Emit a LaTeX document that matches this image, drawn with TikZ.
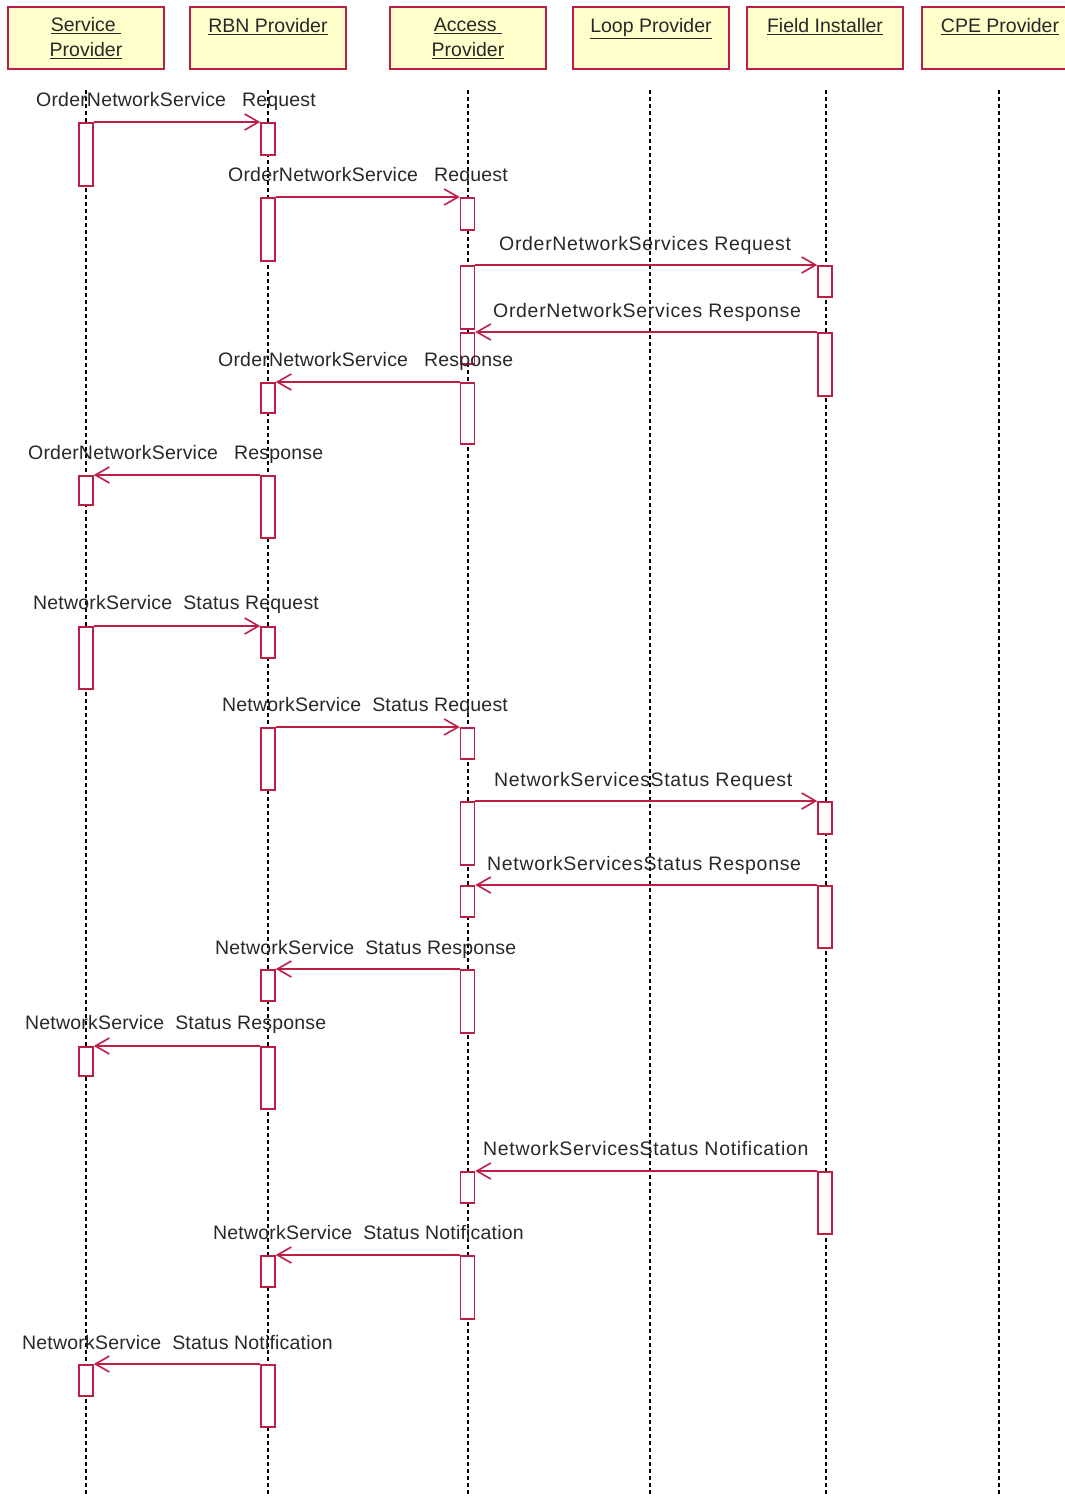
\documentclass[tikz,border=0pt]{standalone}
\usepackage{fontspec}
\setmainfont{Liberation Sans}
\usetikzlibrary{arrows.meta}
\definecolor{crim}{RGB}{190,30,70}
\definecolor{hdrfill}{RGB}{255,255,204}
\definecolor{txt}{RGB}{40,40,40}
\newcommand\actbox[4]{\node[act, minimum height={(#4-#3)*1pt}] (#1) at (#2,#3) {};}
\begin{document}
\begin{tikzpicture}[x=1pt,y=-1pt,
  hdr/.style={draw=crim, fill=hdrfill, line width=1.5pt, minimum width=156pt, minimum height=62pt, inner sep=0pt, align=center, font=\fontsize{19.5}{25}\selectfont, text=txt},
  lifeline/.style={draw=black, line width=1.2pt, dash pattern=on 4pt off 3pt},
  act/.style={draw=crim, fill=white, line width=1.5pt, minimum width=14pt, inner sep=0pt, anchor=north},
  msg/.style={draw=crim, line width=1.6pt, -{Straight Barb[length=14pt,width=16pt]}},
  lbl/.style={anchor=base west, inner sep=0pt, font=\fontsize{19.5}{24}\selectfont\addfontfeature{LetterSpace=1}, text=txt},
  widelbl/.style={anchor=base west, inner sep=0pt, font=\fontsize{19.5}{24}\selectfont\addfontfeature{LetterSpace=3.5}, text=txt}]
\useasboundingbox (0,0) rectangle (1065,1497);

% headers
\node[hdr] (hsp) at (86,38) {\underline{Service\ }\\\underline{Provider}};
\node[hdr] (hrbn) at (268,38) {\underline{RBN Provider}\\\mbox{}};
\node[hdr] (hap) at (468,38) {\underline{Access\ }\\\underline{Provider}};
\node[hdr] (hlp) at (651,38) {\underline{Loop Provider}\\\mbox{}};
\node[hdr] (hfi) at (825,38) {\underline{Field Installer}\\\mbox{}};
\node[hdr] (hcpe) at (1000,38) {\underline{CPE Provider}\\\mbox{}};

% lifelines
\coordinate (spT) at (86,90);   \coordinate (spB) at (86,1497);
\coordinate (rbT) at (268,90);  \coordinate (rbB) at (268,1497);
\coordinate (apT) at (468,90);  \coordinate (apB) at (468,1497);
\coordinate (lpT) at (650,90);  \coordinate (lpB) at (650,1497);
\coordinate (fiT) at (826,90);  \coordinate (fiB) at (826,1497);
\coordinate (cpT) at (999,90);  \coordinate (cpB) at (999,1497);
\draw[lifeline] (spT) -- (spB);
\draw[lifeline] (rbT) -- (rbB);
\draw[lifeline] (apT) -- (apB);
\draw[lifeline] (lpT) -- (lpB);
\draw[lifeline] (fiT) -- (fiB);
\draw[lifeline] (cpT) -- (cpB);

% activation boxes
\actbox{s1}{86}{122}{185}
\actbox{s2}{86}{475}{504}
\actbox{s3}{86}{626}{688}
\actbox{s4}{86}{1046}{1075}
\actbox{s5}{86}{1364}{1395}
\actbox{r1}{268}{122}{154}
\actbox{r2}{268}{197}{260}
\actbox{r3}{268}{382}{412}
\actbox{r4}{268}{475}{537}
\actbox{r5}{268}{626}{657}
\actbox{r6}{268}{727}{789}
\actbox{r7}{268}{969}{1000}
\actbox{r8}{268}{1046}{1108}
\actbox{r9}{268}{1255}{1286}
\actbox{r10}{268}{1364}{1426}
\actbox{a1}{467.5}{197}{229}
\actbox{a2}{467.5}{265}{328}
\actbox{a3}{467.5}{332}{363}
\actbox{a4}{467.5}{382}{443}
\actbox{a5}{467.5}{727}{758}
\actbox{a6}{467.5}{801}{864}
\actbox{a7}{467.5}{885}{916}
\actbox{a8}{467.5}{969}{1032}
\actbox{a9}{467.5}{1171}{1202}
\actbox{a10}{467.5}{1255}{1318}
\actbox{f1}{825}{265}{296}
\actbox{f2}{825}{332}{395}
\actbox{f3}{825}{801}{833}
\actbox{f4}{825}{885}{947}
\actbox{f5}{825}{1171}{1233}

% messages
\draw[msg] (s1.north east) -- (r1.north west);
\draw[msg] (r2.north east) -- (a1.north west);
\draw[msg] (a2.north east) -- (f1.north west);
\draw[msg] (f2.north west) -- (a3.north east);
\draw[msg] (a4.north west) -- (r3.north east);
\draw[msg] (r4.north west) -- (s2.north east);
\draw[msg] (s3.north east) -- (r5.north west);
\draw[msg] (r6.north east) -- (a5.north west);
\draw[msg] (a6.north east) -- (f3.north west);
\draw[msg] (f4.north west) -- (a7.north east);
\draw[msg] (a8.north west) -- (r7.north east);
\draw[msg] (r8.north west) -- (s4.north east);
\draw[msg] (f5.north west) -- (a9.north east);
\draw[msg] (a10.north west) -- (r9.north east);
\draw[msg] (r10.north west) -- (s5.north east);

% labels
\node[lbl] (l1) at (36,106) {OrderNetworkService\hspace{16pt}Request};
\node[lbl] (l2) at (228,181) {OrderNetworkService\hspace{16pt}Request};
\node[widelbl] (l3) at (499,250) {OrderNetworkServices Request};
\node[widelbl] (l4) at (493,317) {OrderNetworkServices Response};
\node[lbl] (l5) at (218,366) {OrderNetworkService\hspace{16pt}Response};
\node[lbl] (l6) at (28,459) {OrderNetworkService\hspace{16pt}Response};
\node[lbl] (l7) at (33,609) {NetworkService\hspace{11pt}Status Request};
\node[lbl] (l8) at (222,711) {NetworkService\hspace{11pt}Status Request};
\node[widelbl] (l9) at (494,786) {NetworkServicesStatus Request};
\node[widelbl] (l10) at (487,870) {NetworkServicesStatus Response};
\node[lbl] (l11) at (215,954) {NetworkService\hspace{11pt}Status Response};
\node[lbl] (l12) at (25,1029) {NetworkService\hspace{11pt}Status Response};
\node[widelbl] (l13) at (483,1155) {NetworkServicesStatus Notification};
\node[lbl] (l14) at (213,1239) {NetworkService\hspace{11pt}Status Notification};
\node[lbl] (l15) at (22,1349) {NetworkService\hspace{11pt}Status Notification};
\end{tikzpicture}
\end{document}
